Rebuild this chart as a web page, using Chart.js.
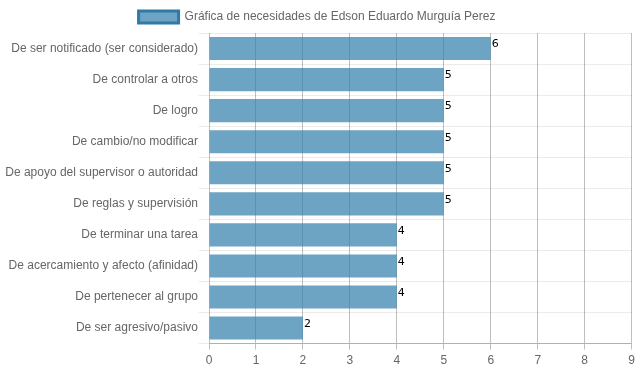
<!DOCTYPE html>
<html><head><meta charset="utf-8">
<script src="https://cdn.jsdelivr.net/npm/chart.js@4/dist/chart.umd.min.js"></script>
<style>html,body{margin:0;padding:0;background:#fff}#wrap{width:639px;height:372px}</style>
</head><body><div id="wrap"><canvas id="c"></canvas></div>
<script>
const categories = ["De ser notificado (ser considerado)","De controlar a otros","De logro","De cambio/no modificar","De apoyo del supervisor o autoridad","De reglas y supervisión","De terminar una tarea","De acercamiento y afecto (afinidad)","De pertenecer al grupo","De ser agresivo/pasivo"];
const values = [6,5,5,5,5,5,4,4,4,2];
const seriesLabel = "Gráfica de necesidades de Edson Eduardo Murguía Perez";

Chart.defaults.font.family = "Arial, 'Liberation Sans', sans-serif";
Chart.defaults.font.size = 12;
Chart.defaults.color = "#666";

const valueLabels = {
  id: 'valueLabels',
  afterDatasetsDraw(chart) {
    const ctx = chart.ctx;
    const meta = chart.getDatasetMeta(0);
    ctx.save();
    ctx.fillStyle = '#000';
    ctx.font = "11px 'DejaVu Sans', sans-serif";
    ctx.textAlign = 'left';
    ctx.textBaseline = 'top';
    meta.data.forEach((bar, i) => {
      const top = bar.y - bar.height / 2;
      ctx.fillText(String(values[i]), bar.x + 1, top + 2);
    });
    ctx.restore();
  }
};

new Chart(document.getElementById('c'), {
  type: 'bar',
  data: {
    labels: categories,
    datasets: [{
      label: seriesLabel,
      data: values,
      backgroundColor: 'rgba(52,128,172,0.72)',
      borderColor: 'rgb(47,122,168)',
      borderWidth: 0,
      barPercentage: 0.93,
      categoryPercentage: 0.8
    }]
  },
  options: {
    indexAxis: 'y',
    responsive: true,
    maintainAspectRatio: false,
    animation: false,
    layout: { padding: { left: 0, right: 5, top: 1, bottom: 0 } },
    plugins: {
      legend: {
        labels: {
          boxWidth: 40,
          boxHeight: 12,
          padding: 10,
          generateLabels(chart) {
            return [{
              text: seriesLabel,
              fillStyle: 'rgba(52,128,172,0.72)',
              strokeStyle: 'rgb(47,122,168)',
              lineWidth: 3,
              hidden: false,
              datasetIndex: 0,
              fontColor: '#666'
            }];
          }
        }
      },
      tooltip: { enabled: false }
    },
    scales: {
      x: {
        min: 0, max: 9,
        ticks: { stepSize: 1, color: '#666', padding: 4 },
        grid: { color: 'rgba(0,0,0,0.25)', drawTicks: true, tickLength: 6 },
        border: { color: 'rgba(0,0,0,0.25)' }
      },
      y: {
        ticks: { color: '#666', padding: 1 },
        grid: { color: 'rgba(0,0,0,0.08)', drawTicks: true, tickLength: 10 },
        border: { display: false },
        afterFit(scale) { scale.width = 209; }
      }
    }
  },
  plugins: [valueLabels]
});
</script></body></html>
